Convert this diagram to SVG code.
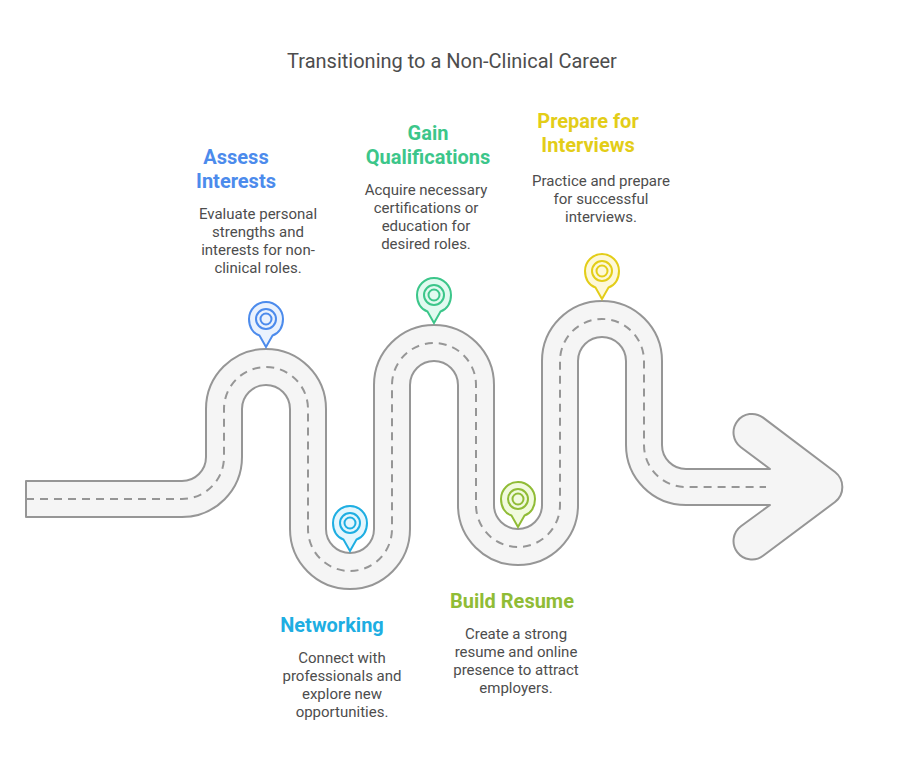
<svg xmlns="http://www.w3.org/2000/svg" width="903" height="771" viewBox="0 0 903 771">
<style>
text{font-family:Roboto,"Liberation Sans",sans-serif;text-anchor:middle}
.t{font-size:20px;fill:#4d4d4d}
.h{font-size:20px;font-weight:700}
.b{font-size:15px;fill:#4d4d4d}
.road{fill:#f5f5f5;stroke:#969696;stroke-width:2;stroke-linejoin:round}
.dash{fill:none;stroke:#969696;stroke-width:2;stroke-dasharray:8 6}
.p{stroke-width:2}
</style>
<defs>
<g id="pin"><path d="M0 28L-6.5 16.500C-13 14.500-17 8-17 0A17 17 0 0 1 17 0C17 8 13 14.500 6.500 16.500Z"/><circle r="10"/><circle r="5.500"/></g>
</defs>
<rect width="903" height="771" fill="#fff"/>
<text class="t" x="452" y="68">Transitioning to a Non-Clinical Career</text>
<g id="connectors">
<path class="road" d="M26 481H182A24 24 0 0 0 206 457V409A60 60 0 0 1 326 409V529A24 24 0 0 0 374 529V385A60 60 0 0 1 494 385V505A24 24 0 0 0 542 505V361A60 60 0 0 1 662 361V445A24 24 0 0 0 686 469H770L740.900 447.200A18.500 18.500 0 0 1 763.100 417.600L835 472A19 19 0 0 1 835 502L763.100 555.800A18.500 18.500 0 0 1 740.900 526.200L770 505H686A60 60 0 0 1 626 445V361A24 24 0 0 0 578 361V505A60 60 0 0 1 458 505V385A24 24 0 0 0 410 385V529A60 60 0 0 1 290 529V409A24 24 0 0 0 242 409V457A60 60 0 0 1 182 517H26Z"/>
<path class="dash" d="M26 499H182A42 42 0 0 0 224 457V409A42 42 0 0 1 308 409V529A42 42 0 0 0 392 529V385A42 42 0 0 1 476 385V505A42 42 0 0 0 560 505V361A42 42 0 0 1 644 361V445A42 42 0 0 0 686 487H766"/>
</g>
<g id="node-assess">
<use class="p" href="#pin" x="266" y="319" fill="#eaf2fd" stroke="#4c8bec"/>
<text class="h" fill="#4c8bec" x="236" y="164">Assess</text><text class="h" fill="#4c8bec" x="236" y="188">Interests</text>
<text class="b" x="258" y="219">Evaluate personal</text><text class="b" x="258" y="237">strengths and</text><text class="b" x="258" y="255">interests for non-</text><text class="b" x="258" y="273">clinical roles.</text>
</g>
<g id="node-networking">
<use class="p" href="#pin" x="350" y="523" fill="#e4f6fd" stroke="#1eaee2"/>
<text class="h" fill="#1eaee2" x="332" y="632">Networking</text>
<text class="b" x="342" y="663">Connect with</text><text class="b" x="342" y="681">professionals and</text><text class="b" x="342" y="699">explore new</text><text class="b" x="342" y="717">opportunities.</text>
</g>
<g id="node-gain">
<use class="p" href="#pin" x="434" y="295" fill="#e2faf0" stroke="#3cc68a"/>
<text class="h" fill="#3cc68a" x="428" y="140">Gain</text><text class="h" fill="#3cc68a" x="428" y="164">Qualifications</text>
<text class="b" x="426" y="195">Acquire necessary</text><text class="b" x="426" y="213">certifications or</text><text class="b" x="426" y="231">education for</text><text class="b" x="426" y="249">desired roles.</text>
</g>
<g id="node-resume">
<use class="p" href="#pin" x="518" y="499" fill="#f1fade" stroke="#90bc36"/>
<text class="h" fill="#90bc36" x="512" y="608">Build Resume</text>
<text class="b" x="516" y="639">Create a strong</text><text class="b" x="516" y="657">resume and online</text><text class="b" x="516" y="675">presence to attract</text><text class="b" x="516" y="693">employers.</text>
</g>
<g id="node-prepare">
<use class="p" href="#pin" x="602" y="271" fill="#fdf8d8" stroke="#e3cd18"/>
<text class="h" fill="#e3cd18" x="588" y="128">Prepare for</text><text class="h" fill="#e3cd18" x="588" y="152">Interviews</text>
<text class="b" x="601" y="186">Practice and prepare</text><text class="b" x="601" y="204">for successful</text><text class="b" x="601" y="222">interviews.</text>
</g>
</svg>
